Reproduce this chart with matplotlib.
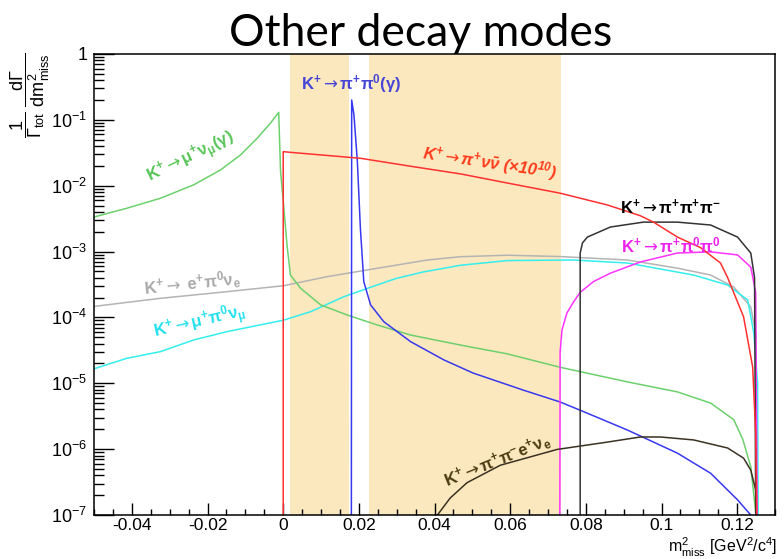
import numpy as np
import matplotlib
matplotlib.use("Agg")
import matplotlib.pyplot as plt
from matplotlib.ticker import MultipleLocator, FixedLocator, FuncFormatter, NullFormatter

plt.rcParams["font.family"] = ["Liberation Sans", "DejaVu Sans"]
plt.rcParams["axes.unicode_minus"] = False
plt.rcParams["mathtext.fontset"] = "custom"
plt.rcParams["mathtext.rm"] = "Liberation Sans"
plt.rcParams["mathtext.it"] = "Liberation Sans:italic"
plt.rcParams["mathtext.bf"] = "Liberation Sans:bold"
plt.rcParams["mathtext.sf"] = "DejaVu Sans"

# m2_miss spectra (1/Gamma_tot dGamma/dm2_miss), as (m2, value) pairs
x_kmu2 = [-0.0500, -0.0414, -0.0325, -0.0237, -0.0166, -0.0113, -0.0069, -0.0034, -0.0012,
          -0.0007, 0.0001, 0.0010, 0.0019, 0.0046, 0.0099, 0.0169, 0.0248, 0.0337, 0.0469,
          0.0592, 0.0732, 0.0910, 0.1042, 0.1130, 0.1191, 0.1215, 0.1236, 0.1249, 0.1254]
y_kmu2 = [3.35e-3, 4.54e-3, 6.44e-3, 1.03e-2, 1.73e-2, 2.93e-2, 5.25e-2, 8.87e-2, 0.130,
          0.0163, 5.1e-3, 1.26e-3, 4.4e-4, 2.77e-4, 1.55e-4, 1.09e-4, 7.7e-5, 5.4e-5, 3.8e-5,
          2.8e-5, 1.75e-5, 1.05e-5, 7.4e-6, 5.0e-6, 2.8e-6, 1.4e-6, 5.4e-7, 1.1e-7, 1e-8]

x_pnn = [0.0, 0.0, 0.0017, 0.0204, 0.0343, 0.0469, 0.0592, 0.0732, 0.0857, 0.0944,
         0.0979, 0.1042, 0.1103, 0.1156, 0.1175, 0.1217, 0.1241, 0.1249, 0.1254]
y_pnn = [1e-8, 0.0329, 0.0322, 0.0261, 0.0195, 0.0151, 0.0110, 0.0077, 0.0051, 0.0035,
         0.0028, 0.00166, 0.00115, 6.7e-4, 4.0e-4, 1.02e-4, 1.77e-5, 1.76e-6, 1e-8]

x_pp0 = [0.0180, 0.0181, 0.0187, 0.0196, 0.0204, 0.0213, 0.0231, 0.0266, 0.0337, 0.0425,
         0.0502, 0.0634, 0.0732, 0.0785, 0.0910, 0.1042, 0.1130, 0.1201, 0.1236, 0.1245]
y_pp0 = [1e-8, 0.20, 0.119, 0.0232, 2.26e-3, 3.49e-4, 1.55e-4, 8.6e-5, 4.28e-5, 2.26e-5,
         1.43e-5, 7.9e-6, 5.2e-6, 3.9e-6, 1.95e-6, 8.7e-7, 4.3e-7, 1.7e-7, 1.0e-7, 5e-8]

x_ke3 = [-0.0500, -0.0325, -0.0149, 0.0001, 0.0116, 0.0248, 0.0381, 0.0469, 0.0592,
         0.0732, 0.0910, 0.1042, 0.1130, 0.1191, 0.1236, 0.1249, 0.1254, 0.1256]
y_ke3 = [1.47e-4, 1.95e-4, 2.46e-4, 3.03e-4, 4.16e-4, 5.57e-4, 7.45e-4, 8.36e-4, 8.8e-4,
         8.4e-4, 7.45e-4, 5.6e-4, 4.4e-4, 2.9e-4, 1.44e-4, 5.8e-5, 1.7e-7, 1e-8]

x_km3 = [-0.0500, -0.0414, -0.0325, -0.0237, -0.0149, 0.0001, 0.0072, 0.0160, 0.0248,
         0.0300, 0.0370, 0.0469, 0.0592, 0.0767, 0.0910, 0.1085, 0.1175, 0.1228, 0.1244,
         0.1254, 0.1256]
y_km3 = [1.66e-5, 2.39e-5, 3.02e-5, 4.54e-5, 6.08e-5, 9.1e-5, 1.22e-4, 2.06e-4, 3.11e-4,
         3.93e-4, 4.9e-4, 6.2e-4, 7.3e-4, 7.45e-4, 6.7e-4, 4.4e-4, 3.1e-4, 1.84e-4, 5.8e-5,
         1.0e-5, 1e-8]

x_p00 = [0.0731, 0.0732, 0.0737, 0.0750, 0.0767, 0.0785, 0.0820, 0.0865, 0.0944,
         0.1042, 0.1130, 0.1201, 0.1236, 0.1249, 0.1254]
y_p00 = [1e-8, 3e-5, 6.5e-5, 1.17e-4, 1.7e-4, 2.4e-4, 3.5e-4, 4.7e-4, 6.95e-4,
         9.5e-4, 9.9e-4, 8.9e-4, 5.8e-4, 2.4e-4, 1e-8]

x_3pi = [0.0785, 0.0785, 0.0791, 0.0804, 0.0865, 0.0952, 0.1042, 0.1130, 0.1201, 0.1236,
         0.1246, 0.1250]
y_3pi = [1e-8, 9.5e-4, 1.35e-3, 1.66e-3, 2.36e-3, 2.8e-3, 2.8e-3, 2.53e-3, 1.66e-3, 9.5e-4,
         4.0e-4, 1e-8]

x_ke4 = [0.0395, 0.0441, 0.0486, 0.0574, 0.0724, 0.0857, 0.0944, 0.0997, 0.1085,
         0.1175, 0.1217, 0.1236, 0.1249, 0.1254]
y_ke4 = [8e-8, 1.8e-7, 3.1e-7, 5.7e-7, 9.9e-7, 1.28e-6, 1.53e-6, 1.53e-6, 1.38e-6,
         1.04e-6, 7.3e-7, 4.8e-7, 2.4e-7, 1e-8]

# signal regions in m2_miss
regions = [(0.0017, 0.0173), (0.0227, 0.0735)]

# decades shown on the y axis
y_decades = list(range(-7, 1))

fig = plt.figure(figsize=(7.84, 5.59), dpi=100)
ax = fig.add_axes([0.120, 0.0787, 0.8685, 0.8247])

for lo, hi in regions:
    ax.axvspan(lo, hi, color="#FCE8BE", lw=0, zorder=0)

lw = 1.1
ax.plot(x_ke3, y_ke3, color="#B4B4B4", lw=lw)
ax.plot(x_km3, y_km3, color="#33EEEE", lw=lw)
ax.plot(x_kmu2, y_kmu2, color="#6CD06C", lw=lw)
ax.plot(x_pp0, y_pp0, color="#3838F0", lw=lw)
ax.plot(x_p00, y_p00, color="#FF33FF", lw=lw)
ax.plot(x_3pi, y_3pi, color="#333333", lw=lw)
ax.plot(x_ke4, y_ke4, color="#3A3222", lw=lw)
ax.plot(x_pnn, y_pnn, color="#FF3030", lw=lw)

ax.set_yscale("log")
ax.set_xlim(-0.05, 0.13)
ax.set_ylim(1e-7, 1)

ax.xaxis.set_major_locator(MultipleLocator(0.02))
ax.xaxis.set_minor_locator(MultipleLocator(0.005))
ax.xaxis.set_major_formatter(FuncFormatter(lambda v, p: "%g" % round(v, 4)))

major_y = [10.0 ** e for e in y_decades]
minor_y = [m * 10.0 ** e for e in y_decades[:-1] for m in range(2, 10)]
ax.yaxis.set_major_locator(FixedLocator(major_y))
ax.yaxis.set_minor_locator(FixedLocator(minor_y))
ax.yaxis.set_minor_formatter(NullFormatter())


def exp_label(v, p):
    e = int(round(np.log10(v)))
    if e == 0:
        return "1"
    return r"$\mathregular{10^{%d}}$" % e


ax.yaxis.set_major_formatter(FuncFormatter(exp_label))
ax.tick_params(axis="x", which="major", direction="in", length=8.6, width=1, labelsize=12.5, pad=2)
ax.tick_params(axis="x", which="minor", direction="in", length=4.3, width=1)
ax.tick_params(axis="y", which="major", direction="in", length=14.5, width=1, labelsize=13, pad=5)
ax.tick_params(axis="y", which="minor", direction="in", length=7.2, width=1)
for s in ax.spines.values():
    s.set_linewidth(1.1)

fig.text(0.991, 0.0125, r"$\mathregular{m^{2}_{miss}}$ [GeV$^{\mathregular{2}}$/c$^{\mathregular{4}}$]",
         fontsize=11.5, ha="right", va="baseline")
fig.text(0.039, 0.906, r"$\mathregular{\dfrac{1}{\Gamma_{tot}}\ \dfrac{d\Gamma}{dm^{2}_{miss}}}$",
         rotation=90, fontsize=13, ha="center", va="top")

fig.text(0.536, 0.918, "Other decay modes", family=["Lato", "DejaVu Sans"],
         fontsize=32, ha="center", va="baseline")

arrow = r"$\mathsf{\rightarrow}$"
lab = dict(fontsize=12, fontweight="bold", ha="center", va="center",
           rotation_mode="anchor")
ax.text(-0.0245, 0.0264, r"K$^{\mathregular{+}}$" + arrow + r"μ$^{\mathregular{+}}$ν$_{\mathregular{μ}}$(γ)",
        color="#55C455", rotation=26, **lab)
ax.text(0.0179, 0.36, r"K$^{\mathregular{+}}$" + arrow + r"π$^{\mathregular{+}}$π$^{\mathregular{0}}$(γ)",
        color="#4646D6", **lab)
ax.text(0.0547, 0.0221,
        r"K$^{\mathregular{+}}$" + arrow + r"π$^{\mathregular{+}}$ν$\mathregular{\bar{ν}}$ (×10$^{\mathregular{10}}$)",
        color="#FF3A1A", rotation=-8.5, fontstyle="italic", **lab)
ax.text(0.1024, 0.00475, r"K$^{\mathregular{+}}$" + arrow + r"π$^{\mathregular{+}}$π$^{\mathregular{+}}$π$^{\mathregular{-}}$",
        color="black", **lab)
ax.text(0.1024, 0.00126, r"K$^{\mathregular{+}}$" + arrow + r"π$^{\mathregular{+}}$π$^{\mathregular{0}}$π$^{\mathregular{0}}$",
        color="#EE22EE", **lab)
ax.text(-0.0240, 3.2e-4, r"K$^{\mathregular{+}}$" + arrow + r" e$^{\mathregular{+}}$π$^{\mathregular{0}}$ν$_{\mathregular{e}}$",
        color="#AAAAAA", rotation=6, **lab)
ax.text(-0.0221, 8.5e-5, r"K$^{\mathregular{+}}$" + arrow + r"μ$^{\mathregular{+}}$π$^{\mathregular{0}}$ν$_{\mathregular{μ}}$",
        color="#22E0EE", rotation=13, **lab)
ax.text(0.0566, 6.8e-7, r"K$^{\mathregular{+}}$" + arrow + r"π$^{\mathregular{+}}$π$^{\mathregular{-}}$e$^{\mathregular{+}}$ν$_{\mathregular{e}}$",
        color="#4B3B12", rotation=22, **lab)

fig.savefig("out.png", dpi=100)
